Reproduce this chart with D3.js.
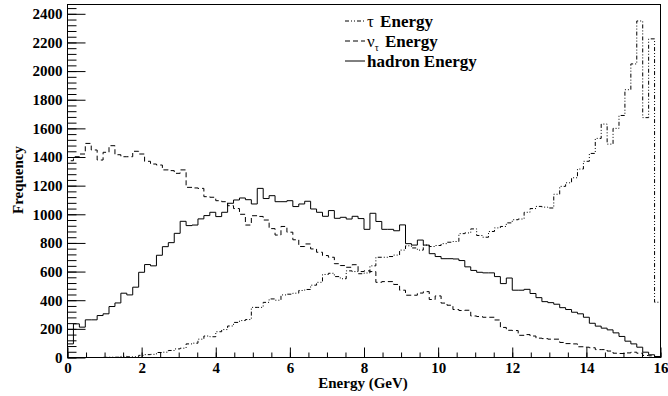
<!DOCTYPE html>
<html>
<head>
<meta charset="utf-8">
<script src="https://cdn.jsdelivr.net/npm/d3@7"></script>
<style>
    body { margin: 0; background: #fff; }
</style>
</head>
<body>
<svg id="energyPlot" width="668" height="396"></svg>
<script>
// histogram definition: 100 bins between 0 and 16 GeV
const nBins = 100;
const eMin = 0, eMax = 16;

// bin contents
const tauEnergy = [
    0, 0, 0, 0, 0, 0, 1, 2, 2, 8,
    5, 5, 15, 20, 22, 35, 37, 49, 60, 65,
    95, 100, 128, 150, 145, 180, 195, 220, 245, 258,
    265, 350, 350, 385, 409, 400, 437, 442, 449, 468,
    475, 505, 525, 580, 588, 565, 550, 605, 600, 585,
    590, 640, 700, 700, 705, 715, 750, 780, 765, 750,
    785, 775, 782, 795, 805, 810, 865, 870, 898, 852,
    840, 880, 905, 915, 940, 962, 967, 1014, 1040, 1055,
    1050, 1044, 1140, 1195, 1220, 1255, 1316, 1370, 1425, 1530,
    1630, 1490, 1600, 1690, 1870, 2050, 2350, 1675, 2225, 386
];
const nuEnergy = [
    1374, 1402, 1421, 1495, 1449, 1379, 1433, 1479, 1416, 1402,
    1402, 1440, 1421, 1370, 1351, 1344, 1310, 1305, 1286, 1310,
    1188, 1184, 1181, 1123, 1119, 1095, 1088, 1060, 1040, 1000,
    925, 990, 985, 960, 900, 855, 915, 875, 822, 775,
    793, 758, 735, 712, 700, 655, 642, 630, 648, 600,
    605, 600, 525, 530, 530, 510, 470, 435, 435, 450,
    460, 405, 430, 380, 365, 335, 328, 330, 290, 286,
    281, 281, 262, 210, 190, 188, 155, 160, 150, 135,
    132, 128, 128, 105, 97, 95, 75, 72, 68, 55,
    55, 45, 30, 28, 32, 37, 30, 14, 12, 5
];
const hadronEnergy = [
    95, 235, 212, 263, 263, 293, 305, 356, 381, 449,
    437, 491, 595, 649, 640, 714, 774, 802, 867, 951,
    921, 925, 968, 991, 1014, 984, 1014, 1077, 1100, 1114,
    1102, 1072, 1181, 1110, 1130, 1088, 1088, 1095, 1054, 1072,
    1091, 1037, 1014, 986, 1026, 972, 979, 967, 986, 970,
    895, 1007, 950, 895, 895, 885, 926, 795, 785, 820,
    785, 725, 705, 690, 690, 688, 677, 633, 608, 595,
    591, 591, 565, 516, 555, 470, 470, 476, 447, 418,
    390, 383, 372, 348, 335, 316, 305, 281, 239, 219,
    205, 193, 172, 147, 114, 95, 72, 37, 19, 7
];

const xTicks = [0, 2, 4, 6, 8, 10, 12, 14, 16];
const yTicks = [0, 200, 400, 600, 800, 1000, 1200, 1400, 1600, 1800, 2000, 2200, 2400];

const legendEntries = [
    { sym: "τ", sub: "", label: " Energy", style: "tau" },
    { sym: "ν", sub: "τ", label: " Energy", style: "nu" },
    { sym: "", sub: "", label: "hadron Energy", style: "hadron" }
];

const dashes = { tau: "4,2,1,2,1,2", nu: "5,3", hadron: null };
const serif = "'Liberation Serif', 'Times New Roman', serif";

class energyHistogram {
    constructor() {
        this.svg = d3.select("#energyPlot");
        this.left = 67.5;
        this.right = 660.5;
        this.top = 4.5;
        this.bottom = 357.5;
        this.x = d3.scaleLinear().domain([eMin, eMax]).range([this.left, this.right]);
        this.y = d3.scaleLinear().domain([0, 2465]).range([this.bottom, this.top]);
        this.binWidth = (eMax - eMin) / nBins;
    }

    // step outline like ROOT's default histogram drawing
    stepPath(values) {
        let pts = [[eMin, 0]];
        values.forEach((v, i) => pts.push([eMin + i * this.binWidth, v]));
        pts.push([eMax, values[values.length - 1]]);
        pts.push([eMax, 0]);
        return d3.line()
            .x(d => this.x(d[0]))
            .y(d => this.y(d[1]))
            .curve(d3.curveStepAfter)(pts);
    }

    render() {
        let svg = this.svg;
        svg.append("rect").attr("width", 668).attr("height", 396).attr("fill", "#fff");

        let series = [
            { name: "hadron", values: hadronEnergy },
            { name: "nu", values: nuEnergy },
            { name: "tau", values: tauEnergy }
        ];
        svg.append("g").attr("class", "hists")
            .selectAll("path")
            .data(series)
            .join("path")
            .attr("d", d => this.stepPath(d.values))
            .attr("fill", "none")
            .attr("stroke", "#000")
            .attr("stroke-width", 1)
            .attr("stroke-dasharray", d => dashes[d.name]);

        // axes, ticks pointing into the frame
        svg.append("g").attr("transform", `translate(${this.left},0)`)
            .call(d3.axisLeft(this.y).tickValues(yTicks).tickSize(-18).tickPadding(5).tickFormat(d3.format("d")));
        svg.append("g").attr("transform", `translate(${this.left},0)`)
            .call(d3.axisLeft(this.y).tickValues(d3.range(0, 2465, 40)).tickSize(-9).tickFormat(""));
        svg.append("g").attr("transform", `translate(0,${this.bottom})`)
            .call(d3.axisBottom(this.x).tickValues(xTicks).tickSize(-10).tickPadding(5).tickFormat(d3.format("d")));
        svg.append("g").attr("transform", `translate(0,${this.bottom})`)
            .call(d3.axisBottom(this.x).tickValues(d3.range(0, 16.01, 0.5)).tickSize(-5).tickFormat(""));

        svg.selectAll(".domain").remove();
        svg.selectAll(".tick line").attr("stroke", "#000");
        svg.selectAll(".tick text").attr("font-size", 15);

        // frame
        svg.append("rect")
            .attr("x", this.left).attr("y", this.top)
            .attr("width", this.right - this.left).attr("height", this.bottom - this.top)
            .attr("fill", "none").attr("stroke", "#000").attr("stroke-width", 1);

        // axis titles
        svg.append("text")
            .attr("x", 363).attr("y", 388)
            .attr("text-anchor", "middle").attr("font-size", 15)
            .text("Energy (GeV)");
        svg.append("text")
            .attr("transform", "translate(23,180) rotate(-90)")
            .attr("text-anchor", "middle").attr("font-size", 15)
            .text("Frequency");

        // legend
        let legend = svg.append("g").attr("class", "legend")
            .selectAll("g")
            .data(legendEntries)
            .join("g")
            .attr("transform", (d, i) => `translate(345,${21 + i * 20})`);
        legend.append("line")
            .attr("x1", 0).attr("x2", 20)
            .attr("stroke", "#000").attr("stroke-width", 1)
            .attr("stroke-dasharray", d => dashes[d.style]);
        let txt = legend.append("text").attr("x", 22).attr("y", 5.5).attr("font-size", 17);
        txt.append("tspan").attr("font-weight", "normal").text(d => d.sym);
        txt.filter(d => d.sub).append("tspan")
            .attr("font-weight", "normal").attr("font-size", 10).attr("dy", 4)
            .text(d => d.sub);
        txt.append("tspan")
            .attr("dy", d => d.sub ? -4 : 0)
            .attr("dx", d => d.sym ? 2 : 0)
            .text(d => d.label);

        svg.selectAll("text")
            .attr("font-family", serif)
            .attr("fill", "#000")
            .filter(function () { return !this.getAttribute("font-weight"); })
            .attr("font-weight", "bold");
    }
}

let plot = new energyHistogram();
plot.render();
</script>
</body>
</html>
